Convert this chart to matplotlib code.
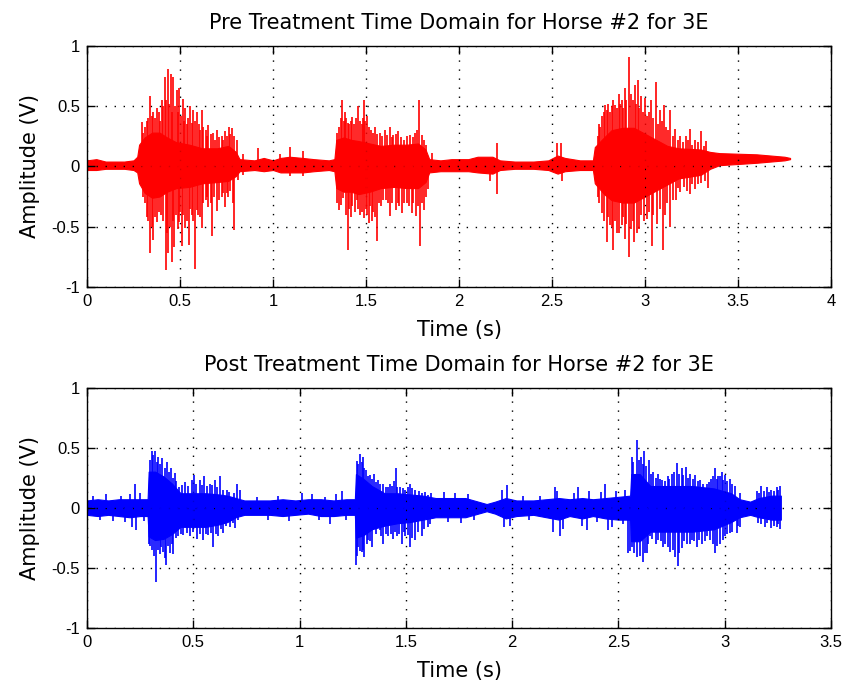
import matplotlib.pyplot as plt

# ---- pre treatment recording: solid core of the signal (t, upper, lower) ----
pre_t = [0.00, 0.05, 0.10, 0.15, 0.20, 0.25, 0.27, 0.28, 0.31, 0.35, 0.39, 0.43,
         0.48, 0.55, 0.62, 0.70, 0.76, 0.80, 0.82, 0.90, 0.95, 1.00, 1.04, 1.09,
         1.16, 1.22, 1.30, 1.33, 1.34, 1.38, 1.42, 1.46, 1.52, 1.58, 1.65, 1.72,
         1.78, 1.82, 1.84, 1.90, 1.96, 2.05, 2.10, 2.18, 2.22, 2.30, 2.40, 2.48,
         2.53, 2.57, 2.65, 2.72, 2.73, 2.78, 2.82, 2.88, 2.94, 3.00, 3.06, 3.12,
         3.18, 3.30, 3.35, 3.40, 3.60, 3.75, 3.78]
pre_hi = [0.05, 0.06, 0.04, 0.04, 0.04, 0.05, 0.08, 0.18, 0.24, 0.28, 0.28, 0.24,
          0.20, 0.18, 0.15, 0.15, 0.17, 0.12, 0.06, 0.05, 0.07, 0.05, 0.07, 0.08,
          0.07, 0.06, 0.05, 0.06, 0.22, 0.24, 0.22, 0.21, 0.19, 0.17, 0.18, 0.18,
          0.19, 0.14, 0.06, 0.05, 0.06, 0.06, 0.08, 0.08, 0.05, 0.04, 0.04, 0.05,
          0.09, 0.07, 0.05, 0.05, 0.16, 0.24, 0.30, 0.32, 0.32, 0.27, 0.22, 0.17,
          0.15, 0.14, 0.12, 0.11, 0.10, 0.08, 0.07]
pre_lo = [-0.03, -0.03, -0.02, -0.02, -0.02, -0.03, -0.05, -0.14, -0.22, -0.26, -0.25, -0.21,
          -0.18, -0.17, -0.14, -0.13, -0.12, -0.08, -0.04, -0.03, -0.04, -0.03, -0.05, -0.05,
          -0.05, -0.04, -0.03, -0.04, -0.18, -0.21, -0.21, -0.23, -0.21, -0.18, -0.17, -0.18,
          -0.18, -0.13, -0.05, -0.04, -0.04, -0.04, -0.05, -0.06, -0.03, -0.02, -0.02, -0.03,
          -0.06, -0.04, -0.03, -0.03, -0.14, -0.23, -0.28, -0.30, -0.30, -0.25, -0.20, -0.15,
          -0.10, -0.07, -0.02, 0.01, 0.03, 0.05, 0.06]

# peaks sticking out of the core
pre_pos_t = [0.294, 0.300, 0.310, 0.321, 0.330, 0.339, 0.348, 0.357, 0.366, 0.375,
             0.385, 0.393, 0.401, 0.410, 0.419, 0.427, 0.434, 0.443, 0.452, 0.458,
             0.464, 0.472, 0.482, 0.488, 0.495, 0.503, 0.514, 0.520, 0.527, 0.535,
             0.545, 0.554, 0.563, 0.572, 0.580, 0.590, 0.600, 0.608, 0.616, 0.625,
             0.638, 0.645, 0.652, 0.665, 0.679, 0.688, 0.697, 0.710, 0.724, 0.733,
             0.742, 0.750, 0.763, 0.770, 0.778, 0.790, 0.805, 0.840, 0.921,
             1.04, 1.09, 1.16,
             1.345, 1.355, 1.365, 1.373, 1.380, 1.387, 1.395, 1.402, 1.410, 1.418,
             1.427, 1.435, 1.445, 1.459, 1.468, 1.477, 1.484, 1.491, 1.497, 1.504,
             1.515, 1.527, 1.535, 1.548, 1.560, 1.575, 1.588, 1.602, 1.615, 1.629,
             1.640, 1.647, 1.660, 1.674, 1.690, 1.705, 1.719, 1.735, 1.750, 1.763,
             1.775, 1.787, 1.800, 1.814, 1.825, 1.853,
             2.203, 2.525, 2.549,
             2.745, 2.755, 2.760, 2.770, 2.778, 2.785, 2.795, 2.803, 2.810, 2.820,
             2.830, 2.839, 2.848, 2.858, 2.866, 2.875, 2.880, 2.890, 2.900, 2.914,
             2.925, 2.935, 2.946, 2.953, 2.960, 2.970, 2.980, 2.990, 3.000, 3.010,
             3.020, 3.030, 3.045, 3.060, 3.070, 3.080, 3.090, 3.100, 3.115, 3.125,
             3.135, 3.150, 3.160, 3.175, 3.190, 3.205, 3.220, 3.230, 3.240, 3.255,
             3.270, 3.285, 3.300, 3.315, 3.330]
pre_pos_v = [0.37, 0.28, 0.33, 0.38, 0.40, 0.58, 0.42, 0.45, 0.40, 0.48,
             0.45, 0.38, 0.55, 0.50, 0.74, 0.55, 0.81, 0.52, 0.77, 0.45,
             0.74, 0.50, 0.63, 0.45, 0.65, 0.42, 0.56, 0.38, 0.48, 0.35,
             0.40, 0.50, 0.36, 0.47, 0.38, 0.45, 0.35, 0.30, 0.47, 0.33,
             0.30, 0.25, 0.34, 0.27, 0.28, 0.22, 0.30, 0.24, 0.25, 0.22,
             0.29, 0.25, 0.33, 0.27, 0.32, 0.25, 0.22, 0.10, 0.15,
             0.10, 0.16, 0.13,
             0.28, 0.33, 0.40, 0.55, 0.38, 0.45, 0.40, 0.36, 0.35, 0.38,
             0.41, 0.35, 0.40, 0.50, 0.38, 0.35, 0.40, 0.55, 0.38, 0.42,
             0.33, 0.30, 0.28, 0.33, 0.27, 0.28, 0.25, 0.30, 0.26, 0.33,
             0.24, 0.26, 0.27, 0.29, 0.24, 0.22, 0.25, 0.26, 0.24, 0.28,
             0.30, 0.55, 0.26, 0.22, 0.18, 0.11,
             0.19, 0.19, 0.19,
             0.25, 0.35, 0.33, 0.42, 0.45, 0.51, 0.47, 0.52, 0.45, 0.50,
             0.55, 0.51, 0.48, 0.60, 0.52, 0.55, 0.48, 0.65, 0.55, 0.91,
             0.60, 0.55, 0.675, 0.52, 0.72, 0.48, 0.58, 0.45, 0.57, 0.42,
             0.45, 0.55, 0.40, 0.70, 0.35, 0.47, 0.38, 0.51, 0.33, 0.30,
             0.47, 0.25, 0.31, 0.22, 0.25, 0.20, 0.25, 0.22, 0.31, 0.18,
             0.22, 0.20, 0.29, 0.17, 0.21]
pre_neg_t = [0.303, 0.310, 0.321, 0.330, 0.339, 0.348, 0.357, 0.366, 0.375, 0.385,
             0.398, 0.410, 0.423, 0.430, 0.437, 0.445, 0.455, 0.462, 0.470, 0.480,
             0.488, 0.495, 0.500, 0.509, 0.518, 0.527, 0.535, 0.548, 0.555, 0.563,
             0.572, 0.581, 0.590, 0.599, 0.607, 0.616, 0.625, 0.638, 0.645, 0.652,
             0.665, 0.674, 0.685, 0.697, 0.710, 0.724, 0.733, 0.742, 0.750, 0.760,
             0.770, 0.783, 0.792, 0.814, 0.840,
             1.09, 1.16,
             1.345, 1.355, 1.365, 1.378, 1.390, 1.402, 1.410, 1.418, 1.427, 1.440,
             1.450, 1.458, 1.468, 1.478, 1.491, 1.500, 1.508, 1.516, 1.523, 1.530,
             1.540, 1.548, 1.557, 1.568, 1.580, 1.590, 1.606, 1.618, 1.629, 1.640,
             1.659, 1.670, 1.680, 1.692, 1.705, 1.719, 1.730, 1.745, 1.755, 1.767,
             1.778, 1.790, 1.800, 1.814, 1.822, 1.832,
             2.167, 2.203, 2.552,
             2.745, 2.755, 2.767, 2.780, 2.794, 2.803, 2.812, 2.820, 2.829, 2.838,
             2.848, 2.860, 2.875, 2.880, 2.890, 2.900, 2.914, 2.925, 2.935, 2.943,
             2.955, 2.970, 2.980, 2.995, 3.010, 3.020, 3.036, 3.045, 3.065, 3.080,
             3.099, 3.110, 3.120, 3.135, 3.150, 3.165, 3.180, 3.190, 3.210, 3.225,
             3.240, 3.255, 3.270, 3.285, 3.300, 3.320, 3.340]
pre_neg_v = [-0.25, -0.30, -0.42, -0.45, -0.72, -0.50, -0.61, -0.42, -0.46, -0.38,
             -0.40, -0.45, -0.86, -0.55, -0.72, -0.50, -0.79, -0.45, -0.67, -0.40,
             -0.52, -0.46, -0.38, -0.66, -0.40, -0.51, -0.45, -0.65, -0.35, -0.40,
             -0.45, -0.85, -0.36, -0.40, -0.42, -0.51, -0.30, -0.28, -0.25, -0.34,
             -0.30, -0.58, -0.25, -0.37, -0.28, -0.25, -0.22, -0.34, -0.22, -0.25,
             -0.20, -0.30, -0.53, -0.11, -0.07,
             -0.08, -0.08,
             -0.30, -0.36, -0.32, -0.26, -0.40, -0.69, -0.35, -0.42, -0.33, -0.38,
             -0.28, -0.35, -0.40, -0.38, -0.43, -0.35, -0.40, -0.47, -0.33, -0.45,
             -0.38, -0.42, -0.62, -0.30, -0.33, -0.28, -0.28, -0.30, -0.41, -0.30,
             -0.36, -0.30, -0.33, -0.39, -0.30, -0.30, -0.33, -0.39, -0.30, -0.41,
             -0.33, -0.66, -0.30, -0.36, -0.25, -0.19,
             -0.12, -0.23, -0.12,
             -0.25, -0.30, -0.39, -0.45, -0.63, -0.42, -0.49, -0.50, -0.69, -0.45,
             -0.55, -0.55, -0.49, -0.42, -0.60, -0.48, -0.75, -0.52, -0.45, -0.63,
             -0.55, -0.52, -0.40, -0.45, -0.44, -0.38, -0.66, -0.40, -0.48, -0.35,
             -0.69, -0.40, -0.30, -0.50, -0.28, -0.28, -0.18, -0.21, -0.17, -0.20,
             -0.23, -0.15, -0.19, -0.15, -0.14, -0.12, -0.18]

# ---- post treatment recording ----
post_t = [0.00, 0.05, 0.10, 0.15, 0.20, 0.25, 0.285, 0.29, 0.32, 0.36, 0.40, 0.44,
          0.50, 0.56, 0.62, 0.66, 0.70, 0.74, 0.80, 0.86, 0.92, 0.98, 1.04, 1.10,
          1.16, 1.22, 1.26, 1.265, 1.30, 1.34, 1.40, 1.46, 1.52, 1.58, 1.64, 1.70,
          1.78, 1.84, 1.88, 1.92, 1.97, 2.02, 2.10, 2.16, 2.22, 2.27, 2.33, 2.38,
          2.44, 2.50, 2.555, 2.56, 2.60, 2.65, 2.75, 2.85, 2.95, 3.03, 3.07, 3.12,
          3.16, 3.22, 3.264]
post_hi = [0.06, 0.07, 0.06, 0.07, 0.07, 0.07, 0.07, 0.30, 0.30, 0.26, 0.20, 0.12,
           0.12, 0.12, 0.11, 0.10, 0.08, 0.06, 0.06, 0.06, 0.07, 0.06, 0.07, 0.07,
           0.06, 0.07, 0.07, 0.28, 0.24, 0.18, 0.12, 0.12, 0.11, 0.10, 0.08, 0.08,
           0.08, 0.05, 0.03, 0.05, 0.08, 0.06, 0.06, 0.07, 0.08, 0.07, 0.08, 0.07,
           0.08, 0.09, 0.10, 0.28, 0.28, 0.18, 0.18, 0.18, 0.16, 0.12, 0.07, 0.05,
           0.08, 0.10, 0.10]
post_lo = [-0.06, -0.07, -0.06, -0.07, -0.08, -0.07, -0.07, -0.24, -0.27, -0.26, -0.22, -0.16,
           -0.16, -0.16, -0.14, -0.12, -0.08, -0.06, -0.06, -0.06, -0.07, -0.06, -0.05, -0.07,
           -0.07, -0.06, -0.06, -0.25, -0.23, -0.18, -0.15, -0.13, -0.12, -0.10, -0.08, -0.08,
           -0.08, -0.05, -0.03, -0.05, -0.09, -0.07, -0.06, -0.08, -0.10, -0.07, -0.09, -0.07,
           -0.09, -0.10, -0.10, -0.28, -0.28, -0.20, -0.20, -0.20, -0.18, -0.12, -0.08, -0.06,
           -0.08, -0.10, -0.10]

post_pos_t = [0.030, 0.090, 0.160, 0.202, 0.226, 0.250,
              0.295, 0.304, 0.310, 0.320, 0.328, 0.335, 0.345, 0.354, 0.365, 0.375,
              0.385, 0.395, 0.405, 0.414, 0.420, 0.433, 0.445, 0.461, 0.475, 0.492,
              0.505, 0.515, 0.532, 0.540, 0.552, 0.565, 0.579, 0.590, 0.602, 0.612,
              0.626, 0.640, 0.657, 0.670, 0.690, 0.704, 0.720,
              0.800, 0.900, 1.010, 1.060, 1.120, 1.170, 1.198,
              1.268, 1.275, 1.284, 1.292, 1.300, 1.305, 1.311, 1.320, 1.331, 1.340,
              1.352, 1.360, 1.370, 1.380, 1.394, 1.405, 1.414, 1.425, 1.435, 1.445,
              1.453, 1.460, 1.472, 1.485, 1.495, 1.510, 1.519, 1.530, 1.543, 1.560,
              1.574, 1.590, 1.605, 1.620,
              1.680, 1.730, 1.790, 1.950, 1.974, 2.050, 2.130, 2.200, 2.210, 2.290,
              2.311, 2.360, 2.420, 2.436, 2.490, 2.530,
              2.562, 2.570, 2.586, 2.595, 2.606, 2.614, 2.622, 2.630, 2.644, 2.655,
              2.664, 2.675, 2.684, 2.695, 2.706, 2.720, 2.731, 2.740, 2.750, 2.760,
              2.774, 2.785, 2.797, 2.806, 2.816, 2.826, 2.837, 2.850, 2.860, 2.872,
              2.883, 2.900, 2.915, 2.925, 2.935, 2.945, 2.954, 2.962, 2.970, 2.978,
              2.985, 2.993, 3.001, 3.012, 3.024, 3.036, 3.048, 3.071, 3.150, 3.160,
              3.173, 3.185, 3.197, 3.210, 3.220, 3.232, 3.244, 3.252, 3.259]
post_pos_v = [0.10, 0.11, 0.10, 0.11, 0.20, 0.12,
              0.40, 0.47, 0.44, 0.47, 0.38, 0.42, 0.36, 0.41, 0.33, 0.38,
              0.30, 0.33, 0.25, 0.29, 0.22, 0.17, 0.19, 0.21, 0.18, 0.23,
              0.27, 0.20, 0.23, 0.19, 0.26, 0.18, 0.20, 0.19, 0.23, 0.17,
              0.26, 0.15, 0.15, 0.13, 0.12, 0.20, 0.15,
              0.09, 0.10, 0.12, 0.11, 0.09, 0.11, 0.14,
              0.39, 0.36, 0.45, 0.38, 0.42, 0.33, 0.31, 0.26, 0.27, 0.24,
              0.28, 0.21, 0.23, 0.20, 0.20, 0.17, 0.17, 0.20, 0.18, 0.22,
              0.33, 0.17, 0.17, 0.16, 0.15, 0.17, 0.20, 0.16, 0.15, 0.14,
              0.12, 0.13, 0.105, 0.12,
              0.13, 0.12, 0.11, 0.15, 0.19, 0.10, 0.10, 0.17, 0.14, 0.12,
              0.17, 0.14, 0.13, 0.20, 0.14, 0.15,
              0.425, 0.38, 0.56, 0.40, 0.42, 0.36, 0.47, 0.35, 0.40, 0.28,
              0.30, 0.25, 0.28, 0.24, 0.23, 0.22, 0.26, 0.24, 0.28, 0.30,
              0.37, 0.28, 0.33, 0.27, 0.34, 0.25, 0.28, 0.24, 0.27, 0.22,
              0.23, 0.20, 0.20, 0.21, 0.24, 0.26, 0.33, 0.24, 0.26, 0.26,
              0.30, 0.23, 0.27, 0.22, 0.24, 0.20, 0.18, 0.12, 0.14, 0.12,
              0.18, 0.14, 0.17, 0.13, 0.15, 0.14, 0.17, 0.15, 0.18]
post_neg_t = [0.060, 0.120, 0.180, 0.210, 0.229, 0.270,
              0.292, 0.298, 0.304, 0.313, 0.323, 0.333, 0.343, 0.350, 0.359, 0.365,
              0.372, 0.382, 0.390, 0.398, 0.406, 0.418, 0.430, 0.440, 0.453, 0.470,
              0.484, 0.500, 0.516, 0.530, 0.547, 0.560, 0.571, 0.583, 0.594, 0.605,
              0.618, 0.630, 0.641, 0.655, 0.673, 0.685, 0.696, 0.712,
              0.850, 0.950, 1.090, 1.143, 1.220,
              1.264, 1.270, 1.276, 1.285, 1.292, 1.298, 1.305, 1.315, 1.323, 1.333,
              1.342, 1.360, 1.378, 1.385, 1.394, 1.405, 1.417, 1.430, 1.441, 1.450,
              1.456, 1.470, 1.480, 1.490, 1.496, 1.510, 1.519, 1.530, 1.543, 1.555,
              1.574, 1.585, 1.602, 1.615,
              1.700, 1.760, 1.820, 1.960, 1.990, 2.080, 2.190, 2.225, 2.240, 2.330,
              2.350, 2.400, 2.450, 2.470, 2.520,
              2.546, 2.555, 2.562, 2.575, 2.586, 2.600, 2.617, 2.625, 2.633, 2.640,
              2.648, 2.660, 2.675, 2.688, 2.700, 2.711, 2.720, 2.735, 2.742, 2.755,
              2.766, 2.778, 2.787, 2.797, 2.810, 2.821, 2.835, 2.845, 2.856, 2.868,
              2.880, 2.892, 2.905, 2.915, 2.930, 2.945, 2.954, 2.965, 2.977, 2.990,
              3.001, 3.013, 3.024, 3.035, 3.056, 3.063, 3.071, 3.158, 3.170, 3.189,
              3.200, 3.220, 3.230, 3.244, 3.250, 3.259]
post_neg_v = [-0.10, -0.11, -0.12, -0.16, -0.19, -0.11,
              -0.30, -0.32, -0.35, -0.40, -0.62, -0.35, -0.39, -0.33, -0.37, -0.42,
              -0.48, -0.32, -0.38, -0.30, -0.39, -0.25, -0.24, -0.22, -0.23, -0.21,
              -0.24, -0.20, -0.26, -0.22, -0.27, -0.22, -0.23, -0.21, -0.33, -0.22,
              -0.24, -0.18, -0.21, -0.15, -0.16, -0.13, -0.17, -0.10,
              -0.10, -0.11, -0.10, -0.14, -0.10,
              -0.48, -0.40, -0.33, -0.36, -0.37, -0.35, -0.41, -0.30, -0.27, -0.28,
              -0.33, -0.22, -0.19, -0.24, -0.30, -0.22, -0.24, -0.22, -0.26, -0.20,
              -0.24, -0.22, -0.30, -0.20, -0.24, -0.23, -0.33, -0.25, -0.27, -0.20,
              -0.24, -0.18, -0.16, -0.14,
              -0.12, -0.13, -0.10, -0.16, -0.15, -0.10, -0.20, -0.24, -0.18, -0.15,
              -0.19, -0.12, -0.19, -0.16, -0.14,
              -0.38, -0.36, -0.33, -0.38, -0.41, -0.40, -0.45, -0.38, -0.38, -0.30,
              -0.24, -0.26, -0.30, -0.27, -0.28, -0.33, -0.30, -0.33, -0.37, -0.35,
              -0.41, -0.49, -0.38, -0.34, -0.28, -0.30, -0.30, -0.27, -0.28, -0.33,
              -0.27, -0.30, -0.28, -0.24, -0.27, -0.30, -0.38, -0.32, -0.30, -0.27,
              -0.24, -0.22, -0.21, -0.20, -0.21, -0.15, -0.16, -0.13, -0.14, -0.16,
              -0.13, -0.17, -0.15, -0.16, -0.14, -0.18]

pre_xticks = [0, 0.5, 1, 1.5, 2, 2.5, 3, 3.5, 4]
post_xticks = [0, 0.5, 1, 1.5, 2, 2.5, 3, 3.5]
yticks = [-1, -0.5, 0, 0.5, 1]

plt.rcParams['font.family'] = ['Liberation Sans', 'DejaVu Sans']


def draw_signal(ax, t, hi, lo, pt, pv, nt, nv, color):
    ax.fill_between(t, lo, hi, color=color, lw=0.8, edgecolor=color)
    ax.vlines(pt, 0, pv, color=color, lw=1.2)
    ax.vlines(nt, 0, nv, color=color, lw=1.2)


def style_axes(ax, xmax, xticks, title):
    ax.set_xlim(0, xmax)
    ax.set_ylim(-1, 1)
    ax.set_xticks(xticks)
    ax.set_xticklabels(['%g' % v for v in xticks])
    ax.set_yticks(yticks)
    ax.set_yticklabels(['%g' % v for v in yticks])
    ax.tick_params(direction='in', length=6, width=1, top=True, right=True,
                   labelsize=12, pad=5)
    ax.grid(True, color='black', linestyle=(0, (1, 5.5)), lw=1)
    for s in ax.spines.values():
        s.set_linewidth(1)
    lab = dict(family='DejaVu Sans', fontsize=15)
    ax.set_title(title, pad=12, **lab)
    ax.set_xlabel('Time (s)', labelpad=8, **lab)
    ax.set_ylabel('Amplitude (V)', labelpad=8, **lab)


fig = plt.figure(figsize=(8.44, 6.86), dpi=100)
ax1 = fig.add_axes([0.1031, 0.5816, 0.8815, 0.3517])
ax2 = fig.add_axes([0.1031, 0.0850, 0.8815, 0.3500])

draw_signal(ax1, pre_t, pre_hi, pre_lo, pre_pos_t, pre_pos_v, pre_neg_t, pre_neg_v, 'red')
draw_signal(ax2, post_t, post_hi, post_lo, post_pos_t, post_pos_v, post_neg_t, post_neg_v, 'blue')

style_axes(ax1, 4, pre_xticks, 'Pre Treatment Time Domain for Horse #2 for 3E')
style_axes(ax2, 3.5, post_xticks, 'Post Treatment Time Domain for Horse #2 for 3E')

fig.savefig('out.png', dpi=100)
